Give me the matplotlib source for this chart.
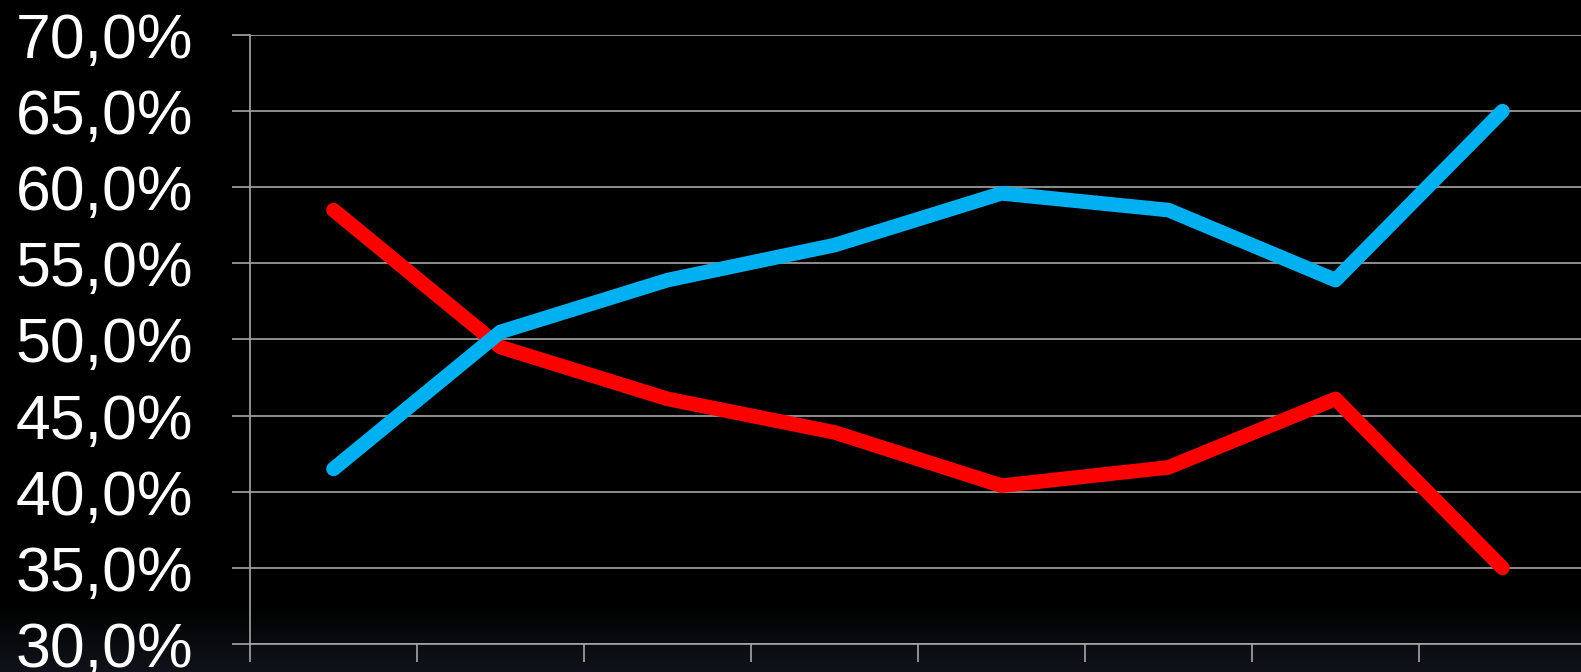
import numpy as np
import matplotlib
matplotlib.use("Agg")
import matplotlib.pyplot as plt
from matplotlib.ticker import FuncFormatter, MultipleLocator

# data (percent)
periods = list(range(8))
blue_share = [41.5, 50.5, 53.9, 56.2, 59.6, 58.5, 53.9, 65.0]
red_share = [58.5, 49.5, 46.1, 43.9, 40.4, 41.6, 46.1, 35.0]

W, H = 1581, 672
fig = plt.figure(figsize=(W / 100, H / 100), dpi=100, facecolor="black")

# faint dark-blue glow at the bottom edge
bg = fig.add_axes([0, 0, 1, 1], zorder=-1)
grad = np.linspace(0, 1, 256).reshape(-1, 1)
grad = np.clip((grad - 0.9) / 0.1, 0, 1)
rgb = np.zeros((256, 1, 3))
rgb[:, 0, 0] = 0.06 * grad[:, 0]
rgb[:, 0, 1] = 0.075 * grad[:, 0]
rgb[:, 0, 2] = 0.10 * grad[:, 0]
bg.imshow(rgb, aspect="auto", extent=[0, 1, 0, 1], origin="upper")
bg.axis("off")

left = 250 / W
bottom = 1 - 644 / H
top = 1 - 35 / H
width = (8 * 167) / W
ax = fig.add_axes([left, bottom, width, top - bottom])
ax.set_facecolor("none")

gray = "#a6a6a6"
ax.plot(periods, red_share, color="#ff0000", lw=10.5, solid_capstyle="round",
        solid_joinstyle="round", zorder=3)
ax.plot(periods, blue_share, color="#00b0f0", lw=10.5, solid_capstyle="round",
        solid_joinstyle="round", zorder=4)

ax.set_ylim(30, 70)
ax.set_xlim(-0.5, 7.5)
ax.yaxis.set_major_locator(MultipleLocator(5))
ax.yaxis.set_major_formatter(FuncFormatter(lambda v, p: ("%.1f%%" % v).replace(".", ",")))
ax.set_xticks(np.arange(-0.5, 8.0, 1.0))
ax.set_xticklabels([])
ax.grid(axis="y", color=gray, lw=1.2)
ax.set_axisbelow(True)

for s in ["top", "right"]:
    ax.spines[s].set_visible(False)
for s in ["left", "bottom"]:
    ax.spines[s].set_color(gray)
    ax.spines[s].set_linewidth(1.2)

ax.tick_params(axis="y", colors=gray, length=13, width=1.2, pad=28,
               labelcolor="white", labelsize=45)
ax.tick_params(axis="x", colors=gray, length=13, width=1.2)
for lab in ax.get_yticklabels():
    lab.set_family("Liberation Sans")

fig.savefig("out.png", dpi=100, facecolor="black")
